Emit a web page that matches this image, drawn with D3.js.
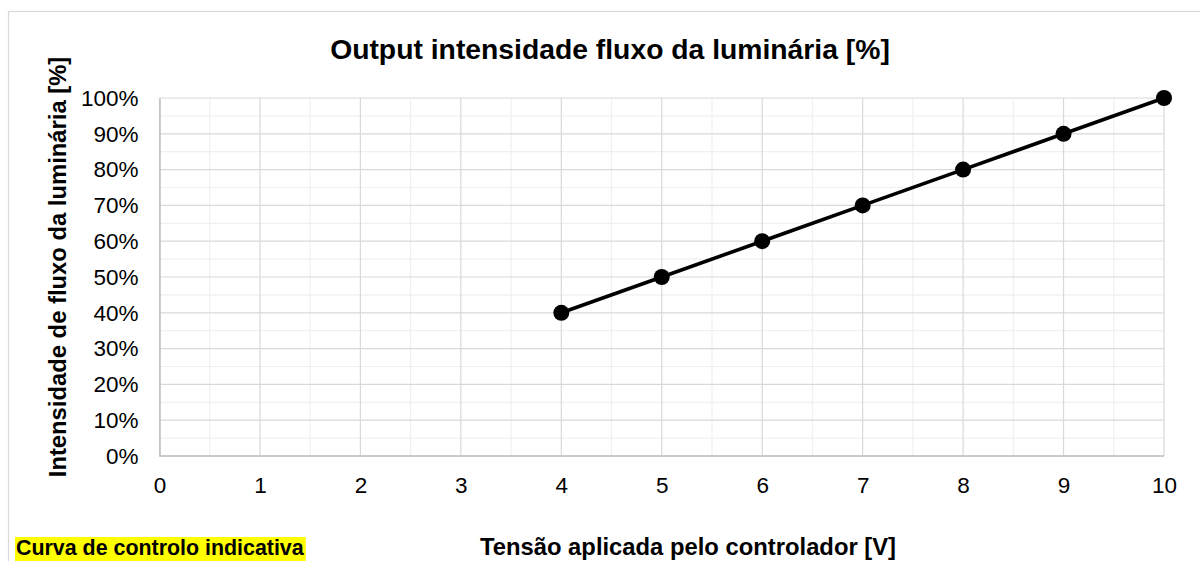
<!DOCTYPE html>
<html><head><meta charset="utf-8">
<script src="https://cdn.jsdelivr.net/npm/d3@7"></script>
<style>body{margin:0;background:#fff}svg{display:block}</style>
</head><body>
<svg id="c" width="1200" height="561"></svg>
<script>
const xValues = [4, 5, 6, 7, 8, 9, 10];
const yValues = [0.40, 0.50, 0.60, 0.70, 0.80, 0.90, 1.00];
const xTicks = [0,1,2,3,4,5,6,7,8,9,10];
const yTicks = [0,0.1,0.2,0.3,0.4,0.5,0.6,0.7,0.8,0.9,1.0];
const title = "Output intensidade fluxo da luminária [%]";
const xTitle = "Tensão aplicada pelo controlador [V]";
const yTitle = "Intensidade de fluxo da luminária [%]";
const note = "Curva de controlo indicativa";

const svg = d3.select("#c");
const font = "Liberation Sans, Arial, sans-serif";
const L = 159.5, R = 1164, T = 98, B = 456;
const x = d3.scaleLinear().domain([0,10]).range([L,R]);
const y = d3.scaleLinear().domain([0,1]).range([B,T]);

// chart border
svg.append("rect").attr("x",8.5).attr("y",11.5).attr("width",1200).attr("height",600)
  .attr("fill","#fff").attr("stroke","#d9d9d9").attr("stroke-width",1.2);

// minor grid
const minorX = d3.range(0.5,10,1), minorY = d3.range(0.05,1,0.1);
svg.append("g").selectAll("line").data(minorX).join("line")
  .attr("x1",d=>x(d)).attr("x2",d=>x(d)).attr("y1",T).attr("y2",B)
  .attr("stroke","#f0f0f0").attr("stroke-width",1.2);
svg.append("g").selectAll("line").data(minorY).join("line")
  .attr("y1",d=>y(d)).attr("y2",d=>y(d)).attr("x1",L).attr("x2",R)
  .attr("stroke","#f0f0f0").attr("stroke-width",1.2);
// major grid
svg.append("g").selectAll("line").data(xTicks).join("line")
  .attr("x1",d=>x(d)).attr("x2",d=>x(d)).attr("y1",T).attr("y2",B)
  .attr("stroke","#d9d9d9").attr("stroke-width",1.2);
svg.append("g").selectAll("line").data(yTicks).join("line")
  .attr("y1",d=>y(d)).attr("y2",d=>y(d)).attr("x1",L).attr("x2",R)
  .attr("stroke","#d9d9d9").attr("stroke-width",1.2);

// axes
const xAxis = svg.append("g").attr("transform",`translate(0,${B})`)
  .call(d3.axisBottom(x).tickValues(xTicks).tickSize(0).tickPadding(21).tickFormat(d3.format("d")));
const yAxis = svg.append("g").attr("transform",`translate(${L},0)`)
  .call(d3.axisLeft(y).tickValues(yTicks).tickSize(0).tickPadding(21).tickFormat(d3.format(".0%")));
[xAxis,yAxis].forEach(a=>{
  a.select(".domain").attr("stroke","#bfbfbf").attr("stroke-width",1.5);
  a.selectAll("text").attr("font-family",font).attr("font-size",22.5).attr("fill","#000");
});
xAxis.select(".domain").remove();
svg.append("line").attr("x1",L).attr("x2",R).attr("y1",B).attr("y2",B)
  .attr("stroke","#bfbfbf").attr("stroke-width",1.5);

// line + markers
const pts = xValues.map((v,i)=>[v,yValues[i]]);
svg.append("path").datum(pts)
  .attr("d",d3.line().x(d=>x(d[0])).y(d=>y(d[1])))
  .attr("fill","none").attr("stroke","#000").attr("stroke-width",3.6);
svg.append("g").selectAll("circle").data(pts).join("circle")
  .attr("cx",d=>x(d[0])).attr("cy",d=>y(d[1])).attr("r",8).attr("fill","#000");

// titles
svg.append("text").attr("x",610).attr("y",59).attr("text-anchor","middle")
  .attr("font-family",font).attr("font-weight","bold").attr("font-size",28.3).text(title);
svg.append("text").attr("x",688).attr("y",555).attr("text-anchor","middle")
  .attr("font-family",font).attr("font-weight","bold").attr("font-size",23.8).text(xTitle);
svg.append("text").attr("transform","translate(66,267) rotate(-90)").attr("text-anchor","middle")
  .attr("font-family",font).attr("font-weight","bold").attr("font-size",23.8).text(yTitle);

// note with yellow highlight
const nt = svg.append("text").attr("x",16).attr("y",555)
  .attr("font-family",font).attr("font-weight","bold").attr("font-size",21.4).text(note);
const bb = nt.node().getBBox();
svg.insert("rect", () => nt.node()).attr("x",15).attr("y",537).attr("width",bb.width+2).attr("height",30).attr("fill","#ffff00");
</script>
</body></html>
